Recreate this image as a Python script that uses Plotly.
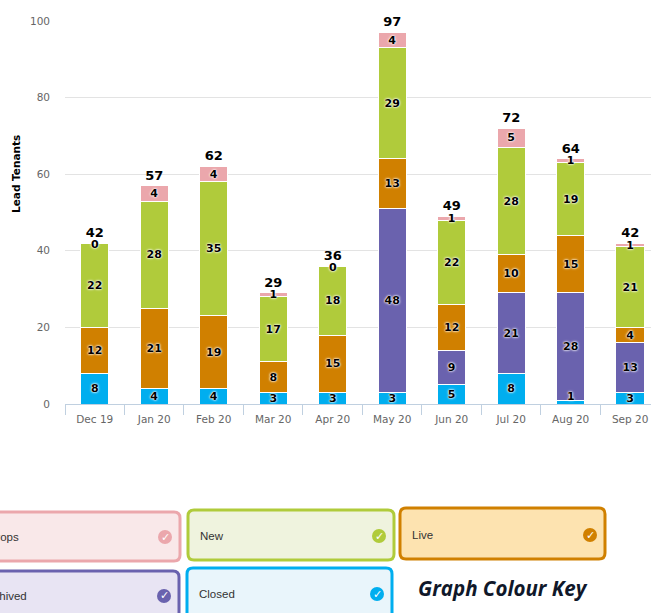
import plotly.graph_objects as go

months = ["Dec 19", "Jan 20", "Feb 20", "Mar 20", "Apr 20", "May 20", "Jun 20", "Jul 20", "Aug 20", "Sep 20"]
closed = [8, 4, 4, 3, 3, 3, 5, 8, 1, 3]
archived = [0, 0, 0, 0, 0, 48, 9, 21, 28, 13]
live = [12, 21, 19, 8, 15, 13, 12, 10, 15, 4]
new = [22, 28, 35, 17, 18, 29, 22, 28, 19, 21]
drops = [0, 4, 4, 1, 0, 4, 1, 5, 1, 1]
totals = [42, 57, 62, 29, 36, 97, 49, 72, 64, 42]

series_names = ["Closed", "Archived", "Live", "New", "Drops"]
series_values = [closed, archived, live, new, drops]
series_colors = ["#00AEEF", "#6A62AE", "#D08000", "#B0CB3B", "#EBA7AC"]

W, H = 651, 613
L, R, T, B = 65, 0, 21, 209
PW, PH = W - L - R, H - T - B
HALO = "0 0 3px white, 0 0 2px white, 0 0 1px white"
LABEL_FONT = dict(family="DejaVu Sans", size=11, color="black", weight="bold", shadow=HALO)


def px(x):
    return (x - L) / PW


def py(y):
    return (H - B - y) / PH


def round_rect(x0, x1, y0, y1, r=6):
    def p(x, y):
        return f"{px(x):.5f} {py(y):.5f}"
    return (f"M{p(x0 + r, y0)} L{p(x1 - r, y0)} Q{p(x1, y0)} {p(x1, y0 + r)} L{p(x1, y1 - r)} "
            f"Q{p(x1, y1)} {p(x1 - r, y1)} L{p(x0 + r, y1)} Q{p(x0, y1)} {p(x0, y1 - r)} "
            f"L{p(x0, y0 + r)} Q{p(x0, y0)} {p(x0 + r, y0)} Z")


fig = go.Figure()
for name, vals, col in zip(series_names, series_values, series_colors):
    # values of 0 get no bar label; a 1 in the bottom series is too thin and is placed separately
    hide_one = name == "Closed"
    fig.add_trace(go.Bar(
        name=name, x=months, y=vals, width=0.477,
        marker=dict(color=col, line=dict(color="white", width=1)),
        text=["" if (v == 0 or (hide_one and v == 1)) else str(v) for v in vals],
        textposition="inside", insidetextanchor="middle", textangle=0,
        constraintext="none", cliponaxis=False,
        textfont=LABEL_FONT,
        hoverinfo="x+y+name",
    ))

fig.add_trace(go.Scatter(
    x=months, y=totals, mode="markers+text", text=[str(t) for t in totals],
    marker=dict(size=3, opacity=0),
    textposition="top center", cliponaxis=False, showlegend=False,
    textfont=dict(family="DejaVu Sans", size=13, color="black", weight="bold"),
))

annotations = []
# zero-valued "Drops" labels sit on top of their stack
for m, d, t in zip(months, drops, totals):
    if d == 0:
        annotations.append(dict(text="0", x=m, y=t, xref="x", yref="y", yshift=-1, showarrow=False, font=LABEL_FONT))
# thin bottom segment: label pushed up off the axis
for m, c in zip(months, closed):
    if c == 1:
        annotations.append(dict(text=str(c), x=m, y=c, xref="x", yref="y", yshift=4, showarrow=False, font=LABEL_FONT))

# colour key
key = [
    ("Drops", -20, 180, 512, 561, "#F9E8E9", "#EBA7AC", (165, 537), -14),
    ("New", 188, 394, 510, 560, "#EFF3DE", "#B0CB3B", (379, 536), 198),
    ("Live", 400, 605, 508, 559, "#FDE3B0", "#D08000", (590, 535), 410),
    ("Archived", -20, 179, 571, 640, "#E8E4F3", "#6A62AE", (164, 596), -20),
    ("Closed", 187, 392, 568, 640, "#E9F5FB", "#00AEEF", (377, 594), 197),
]
shapes = []
for label, x0, x1, y0, y1, fill, line, (cx, cy), tx in key:
    shapes.append(dict(type="path", xref="paper", yref="paper", path=round_rect(x0, x1, y0, y1),
                       fillcolor=fill, line=dict(color=line, width=3)))
    shapes.append(dict(type="circle", xref="paper", yref="paper", x0=px(cx - 7), x1=px(cx + 7),
                       y0=py(cy - 7), y1=py(cy + 7), fillcolor=line, line=dict(width=0)))
    annotations.append(dict(text=label, xref="paper", yref="paper", x=px(tx), y=py(cy), xanchor="left",
                            yanchor="middle", showarrow=False,
                            font=dict(family="Liberation Sans", size=11.5, color="#333333")))
    annotations.append(dict(text="✓", xref="paper", yref="paper", x=px(cx), y=py(cy), xanchor="center",
                            yanchor="middle", showarrow=False,
                            font=dict(family="DejaVu Sans", size=11, color="white", weight="bold")))
annotations.append(dict(text="<b><i>Graph Colour Key</i></b>", xref="paper", yref="paper", x=px(503), y=py(588),
                        xanchor="center", yanchor="middle", showarrow=False,
                        font=dict(family="Open Sans", size=20.5, color="#10182A")))
annotations.append(dict(text="<b>Lead Tenants</b>", xref="paper", yref="paper", x=px(16), y=py(174),
                        xanchor="center", yanchor="middle", textangle=-90, showarrow=False,
                        font=dict(family="DejaVu Sans", size=10.5, color="black")))

fig.update_layout(
    width=W, height=H, margin=dict(l=L, r=R, t=T, b=B), barmode="stack", showlegend=False,
    paper_bgcolor="white", plot_bgcolor="white", shapes=shapes, annotations=annotations,
    xaxis=dict(type="category", categoryorder="array", categoryarray=months, range=[-0.5, 9.35],
               tickson="boundaries", ticks="outside", ticklen=10, tickcolor="#C0D0E0", tickwidth=1,
               showline=True, linecolor="#C0D0E0", linewidth=1, showgrid=False, ticklabelstandoff=5,
               tickfont=dict(family="DejaVu Sans", size=10.5, color="#666666")),
    yaxis=dict(range=[0, 100], tick0=0, dtick=20, showline=False, ticks="", gridcolor="#E3E3E3", gridwidth=1,
               zeroline=False, tickfont=dict(family="DejaVu Sans", size=10.5, color="#666666"), ticklen=0,
               ticklabelstandoff=14),
)
fig.write_html("out.html", config={"displayModeBar": False}, post_script="document.body.style.margin='0';")
